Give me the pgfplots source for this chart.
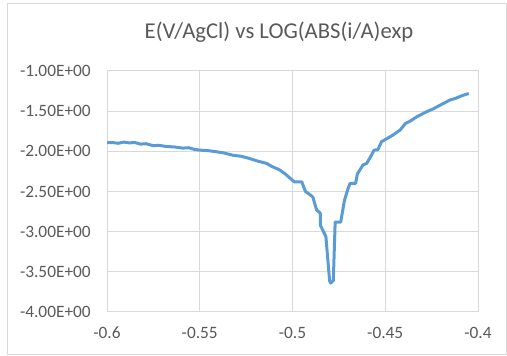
\documentclass[border=0pt]{standalone}
\usepackage{pgfplots}
\pgfplotsset{compat=1.18}
\usepackage{fontspec}
\setmainfont{Carlito}
\definecolor{txt}{HTML}{595959}
\definecolor{grd}{HTML}{D9D9D9}
\definecolor{ln}{HTML}{5B9BD5}
\begin{document}
\begin{tikzpicture}[x=0.75pt,y=0.75pt]
\useasboundingbox (0,0) rectangle (507,356);
\draw[grd, line width=0.75pt] (7,1) rectangle (506,352);
\node[txt, font=\fontsize{17}{20}\selectfont] at (279,324) {E(V/AgCl) vs LOG(ABS(i/A)exp};
\begin{axis}[at={(80.25pt,33pt)}, anchor=south west,
  width=278.25pt, height=180.75pt, scale only axis,
  xmin=-0.6, xmax=-0.4, ymin=-4, ymax=-1,
  xtick={-0.6,-0.55,-0.5,-0.45,-0.4},
  xticklabels={-0.6,-0.55,-0.5,-0.45,-0.4},
  ytick={-4,-3.5,-3,-2.5,-2,-1.5,-1},
  yticklabels={-4.00E+00,-3.50E+00,-3.00E+00,-2.50E+00,-2.00E+00,-1.50E+00,-1.00E+00},
  grid=major, major grid style={grd, line width=0.75pt},
  axis line style={grd, line width=0.75pt},
  major tick length=0pt,
  tick label style={txt, font=\fontsize{13}{15}\selectfont, inner sep=0pt},
  xticklabel style={anchor=center, yshift=-15.75pt},
  yticklabel style={anchor=east, xshift=-12pt},
]
\addplot[ln, line width=2.25pt, line join=round, no marks] coordinates {
(-0.600,-1.893) (-0.597,-1.89) (-0.594,-1.90) (-0.591,-1.885) (-0.588,-1.895) (-0.585,-1.89)
(-0.582,-1.91) (-0.579,-1.905) (-0.575,-1.93) (-0.572,-1.925) (-0.568,-1.94) (-0.564,-1.945)
(-0.559,-1.96) (-0.556,-1.955) (-0.553,-1.975) (-0.550,-1.985) (-0.546,-1.99) (-0.541,-2.005)
(-0.537,-2.02) (-0.532,-2.05) (-0.528,-2.06) (-0.523,-2.09) (-0.519,-2.12) (-0.514,-2.15)
(-0.511,-2.19) (-0.507,-2.23) (-0.504,-2.28) (-0.501,-2.34) (-0.499,-2.38) (-0.495,-2.38)
(-0.493,-2.50) (-0.490,-2.55) (-0.489,-2.57) (-0.487,-2.73) (-0.485,-2.77) (-0.485,-2.92)
(-0.482,-3.06) (-0.480,-3.61) (-0.4795,-3.64) (-0.478,-3.61) (-0.477,-2.88) (-0.474,-2.88)
(-0.472,-2.61) (-0.470,-2.46) (-0.469,-2.40) (-0.466,-2.40) (-0.465,-2.28) (-0.462,-2.17)
(-0.460,-2.15) (-0.457,-2.03) (-0.456,-1.985) (-0.454,-1.98) (-0.452,-1.88) (-0.449,-1.84)
(-0.446,-1.80) (-0.442,-1.735) (-0.439,-1.65) (-0.437,-1.63) (-0.433,-1.57) (-0.428,-1.51)
(-0.424,-1.47) (-0.420,-1.42) (-0.415,-1.36) (-0.412,-1.34) (-0.409,-1.31) (-0.405,-1.28)
};
\end{axis}
\end{tikzpicture}
\end{document}
